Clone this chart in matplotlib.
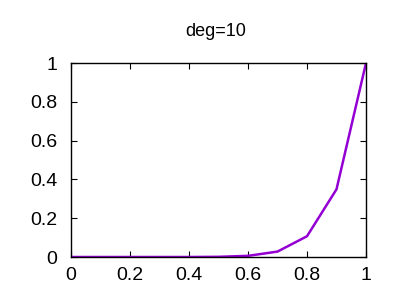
import matplotlib
matplotlib.use("Agg")
import matplotlib.pyplot as plt

plt.rcParams['font.family'] = ['Liberation Sans', 'DejaVu Sans']

# values
x = [0.0, 0.1, 0.2, 0.3, 0.4, 0.5, 0.6, 0.7, 0.8, 0.9, 1.0]
y = [0.0, 0.0, 0.0, 0.0, 0.0, 0.001, 0.006, 0.028, 0.107, 0.349, 1.0]
xticks = [0, 0.2, 0.4, 0.6, 0.8, 1]
yticks = [0, 0.2, 0.4, 0.6, 0.8, 1]
title = "deg=10"

fig = plt.figure(figsize=(4, 3), dpi=100)
ax = fig.add_axes([0.1775, 0.1433, 0.7375, 0.6467])
ax.plot(x, y, color="#9400D3", lw=1.8)
ax.set_xlim(0, 1)
ax.set_ylim(0, 1)
ax.set_xticks(xticks)
ax.set_yticks(yticks)
ax.set_xticklabels([f"{t:g}" for t in xticks])
ax.set_yticklabels([f"{t:g}" for t in yticks])
ax.tick_params(direction="in", top=True, right=True, labelsize=14, length=4)
ax.tick_params(axis="y", pad=10)
ax.tick_params(axis="x", pad=7)
for s in ax.spines.values():
    s.set_linewidth(1)
fig.text(0.538, 0.895, title, ha="center", va="center", fontsize=13)

fig.savefig("out.png", dpi=100)
